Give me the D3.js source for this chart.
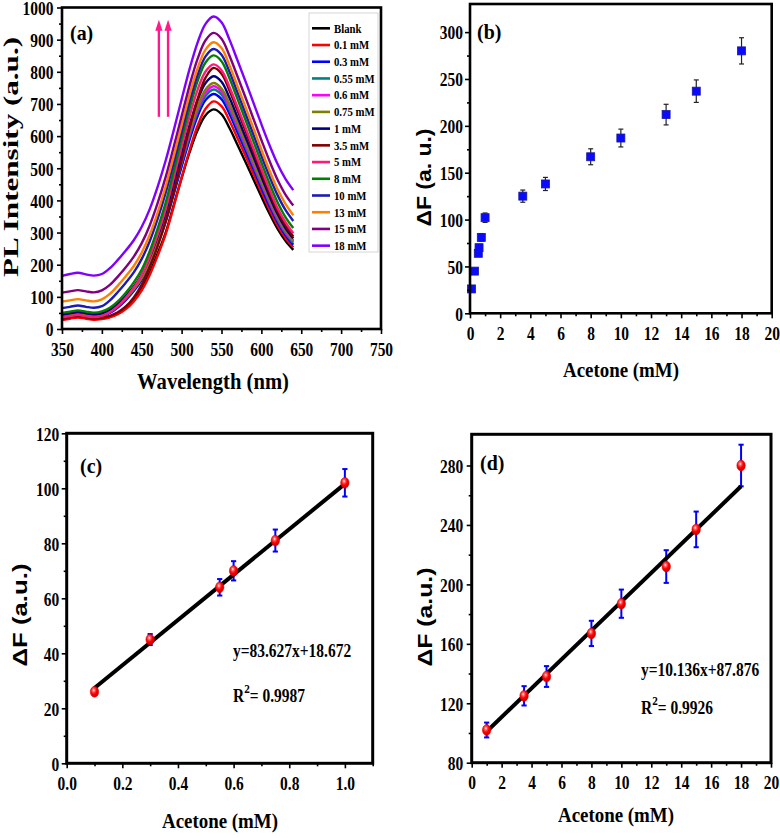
<!DOCTYPE html>
<html><head><meta charset="utf-8">
<script src="https://cdn.jsdelivr.net/npm/d3@7"></script>
<style>body{margin:0;background:#fff}</style>
</head><body>
<svg id="chart" width="780" height="838"></svg>
<script>
// ---------------- DATA ----------------
const wavelengths = [350,360,370,380,390,400,410,420,430,440,450,460,470,480,490,500,510,520,530,540,550,560,570,580,590,600,610,620,630,640];
const seriesNames = ["Blank","0.1 mM","0.3 mM","0.55 mM","0.6 mM","0.75 mM","1 mM","3.5 mM","5 mM","8 mM","10 mM","13 mM","15 mM","18 mM"];
const seriesColors = ["#000000","#ff0000","#0000ff","#008080","#ff00ff","#808000","#000080","#800000","#ff1a7a","#008000","#1c1cb4","#ff8000","#800080","#8000ff"];
const specBlank = [30,34,38,34,31,33,38,48,65,90,125,175,235,300,385,470,550,618,665,683,668,625,573,520,466,412,360,313,275,246];
const spec01  = [28,32,36,32,29,31,36,46,62,86,120,168,228,295,380,470,556,632,685,708,693,648,594,539,482,427,372,323,284,254];
const spec03  = [36,40,44,40,37,40,50,67,90,118,153,203,264,333,418,505,589,662,712,731,715,669,613,556,498,440,384,334,293,262];
const spec055 = [40,44,48,44,41,44,54,72,95,123,158,209,271,342,428,516,601,675,725,745,729,682,625,567,508,449,393,341,299,268];
const spec06  = [42,46,50,46,43,46,56,74,98,126,162,213,276,347,434,523,609,684,735,755,739,691,633,575,515,456,398,346,304,272];
const spec075 = [38,42,46,42,39,42,53,71,95,124,160,213,277,349,438,529,616,692,745,765,748,700,642,583,522,462,404,351,308,276];
const spec1   = [45,49,53,49,46,49,60,78,103,132,170,223,288,362,453,545,634,712,765,786,769,719,659,598,536,474,414,359,315,282];
const spec35  = [32,36,40,36,33,35,41,52,70,98,138,192,258,335,425,525,625,715,782,812,794,742,680,617,552,487,425,368,323,288];
const spec5   = [36,40,44,40,37,41,52,71,97,129,168,225,294,373,469,567,662,744,801,823,805,753,691,627,562,498,435,378,333,298];
const spec8   = [50,54,58,54,51,55,66,86,113,145,185,242,313,393,491,591,687,771,829,851,833,780,716,651,584,518,454,396,349,314];
const spec10  = [65,69,73,69,66,71,89,115,144,176,218,273,343,424,516,613,708,790,848,871,853,800,736,671,605,539,476,418,371,336];
const spec13  = [85,89,93,89,86,92,109,135,164,196,238,293,363,444,537,634,729,811,869,892,874,820,756,691,625,558,494,436,390,354];
const spec15  = [113,117,121,117,114,120,137,163,192,225,267,322,392,473,566,662,758,840,898,921,903,850,786,721,654,588,524,466,419,384];
const spec18  = [165,171,175,170,166,171,189,215,244,276,318,373,443,524,617,714,809,891,949,972,954,900,836,771,704,637,573,515,468,432];
const spectra = [specBlank,spec01,spec03,spec055,spec06,spec075,spec1,spec35,spec5,spec8,spec10,spec13,spec15,spec18];

const acetone = [0.1,0.3,0.55,0.6,0.75,1,3.5,5,8,10,13,15,18];
const deltaF  = [26,45,64,70,81,102,125,138,167,187,212,237,280];
const deltaErr = [1.2,2,3,3.5,4,5,6.5,7,8.5,9.5,11,12,14];

const lowRangeIdx = [0,1,2,3,4,5];        // panel (c)
const highRangeIdx = [5,6,7,8,9,10,11,12]; // panel (d)
const fitLineC = [[0.1,27.4],[1.0,101.6]];
const fitLineD = [[1,101],[18,266]];
const eqC = ["y=83.627x+18.672","0.9987"];
const eqD = ["y=10.136x+87.876","0.9926"];

const arrowWl = [471.5, 483];
const arrowRange = [660, 962];

const xTicksA = [350,400,450,500,550,600,650,700,750];
const yTicksA = [0,100,200,300,400,500,600,700,800,900,1000];
const xTicksB = [0,2,4,6,8,10,12,14,16,18,20];
const yTicksB = [0,50,100,150,200,250,300];
const xTicksC = [0,0.2,0.4,0.6,0.8,1.0];
const yTicksC = [0,20,40,60,80,100,120];
const xTicksD = [0,2,4,6,8,10,12,14,16,18,20];
const yTicksD = [80,120,160,200,240,280];

// ---------------- DRAWING ----------------
const SERIF = '"Liberation Serif","Times New Roman",serif';
const SANS = '"Liberation Sans",Arial,sans-serif';
const SQ = 0.86;
const svg = d3.select('#chart');
svg.append('rect').attr('width',780).attr('height',838).attr('fill','#fff');
const defs = svg.append('defs');

function hText(parent, x, y, str, size, anchor='start', family=SERIF, sx=SQ) {
  return parent.append('text')
    .attr('transform', `translate(${x},${y}) scale(${sx},1)`)
    .attr('font-family', family).attr('font-weight','bold').attr('font-size', size)
    .attr('text-anchor', anchor).attr('fill','#000').text(str);
}
function vText(parent, x, y, str, size, family, sy, len) {
  const t = parent.append('text')
    .attr('transform', `translate(${x},${y}) rotate(-90) scale(1,${sy})`)
    .attr('font-family', family).attr('font-weight','bold').attr('font-size', size)
    .attr('text-anchor','middle').attr('fill','#000').text(str);
  if (len) t.attr('textLength', len).attr('lengthAdjust','spacingAndGlyphs');
  return t;
}
function minorVals(majors, step) {
  const out = [];
  for (let i = 0; i < majors.length - 1; i++) out.push(+(majors[i] + step).toFixed(4));
  return out;
}
function makeAxes(g, xs, ys, cfg) {
  const [x0, x1] = xs.range();
  const [y0, y1] = ys.range();
  g.append('g').attr('transform',`translate(0,${y0})`)
    .call(d3.axisBottom(xs).tickValues(cfg.xMinor).tickSize(3).tickFormat(''));
  g.append('g').attr('transform',`translate(${x0},0)`)
    .call(d3.axisLeft(ys).tickValues(cfg.yMinor).tickSize(3).tickFormat(''));
  const bx = g.append('g').attr('transform',`translate(0,${y0})`)
    .call(d3.axisBottom(xs).tickValues(cfg.xMajor).tickSize(5).tickPadding(cfg.padX).tickFormat(cfg.fmtX));
  const ly = g.append('g').attr('transform',`translate(${x0},0)`)
    .call(d3.axisLeft(ys).tickValues(cfg.yMajor).tickSize(5).tickPadding(cfg.padY).tickFormat(cfg.fmtY));
  g.selectAll('.domain').remove();
  g.selectAll('.tick line').attr('stroke','#000').attr('stroke-width',1.6);
  [[bx,0],[ly,1]].forEach(([a,dyy]) => a.selectAll('text').each(function(){
    const t = d3.select(this);
    const xx = +t.attr('x') || 0, yy = (+t.attr('y') || 0) + dyy;
    t.attr('x',0).attr('y',0).attr('transform',`translate(${xx},${yy}) scale(${SQ},1)`)
     .attr('font-family',SERIF).attr('font-weight','bold').attr('font-size',18).attr('fill','#000');
  }));
  g.append('rect').attr('x',x0).attr('y',y1).attr('width',x1-x0).attr('height',y0-y1)
    .attr('fill','none').attr('stroke','#000').attr('stroke-width',cfg.frame);
}

// ---- Panel (a) ----
const gA = svg.append('g');
const xA = d3.scaleLinear().domain([350,750]).range([62,381]);
const yA = d3.scaleLinear().domain([0,1000]).range([329,7.5]);
const lineA = d3.line().x((d,i)=>xA(wavelengths[i])).y(d=>yA(d)).curve(d3.curveCatmullRom.alpha(0.5));
spectra.forEach((s,k)=>{
  gA.append('path').attr('d',lineA(s)).attr('fill','none').attr('stroke',seriesColors[k]).attr('stroke-width',2.4);
});
makeAxes(gA, xA, yA, {xMajor:xTicksA, xMinor:minorVals(xTicksA,25), yMajor:yTicksA, yMinor:minorVals(yTicksA,50),
  padX:9, padY:3.5, fmtX:d3.format('d'), fmtY:d3.format('d'), frame:2.6});
// legend
const leg = gA.append('g');
leg.append('rect').attr('x',309).attr('y',13).attr('width',69).attr('height',239).attr('fill','#fff').attr('stroke','#d6d6d6').attr('stroke-width',1);
seriesNames.forEach((n,i)=>{
  const yy = 28.3 + i*16.72;
  leg.append('line').attr('x1',312).attr('x2',330).attr('y1',yy).attr('y2',yy).attr('stroke',seriesColors[i]).attr('stroke-width',2.6);
  hText(leg, 334, yy+4.3, n, 12.5);
});
// arrows
arrowWl.forEach(w=>{
  const ax = xA(w), yb = yA(arrowRange[0]), yt = yA(arrowRange[1]);
  gA.append('line').attr('x1',ax).attr('x2',ax).attr('y1',yb).attr('y2',yt+8)
    .attr('stroke','#ff1a8c').attr('stroke-width',2.4);
  gA.append('path').attr('d',`M${ax},${yt} L${ax-3.6},${yt+11} L${ax+3.6},${yt+11} Z`).attr('fill','#ff1a8c');
});
hText(gA, 70, 40, '(a)', 21, 'start', SERIF, 0.95);
hText(gA, 213, 389, 'Wavelength (nm)', 24, 'middle');
vText(gA, 18, 157, 'PL Intensity (a.u.)', 26, SERIF, 0.8, 240);

// ---- Panel (b) ----
const gB = svg.append('g');
const xB = d3.scaleLinear().domain([0,20]).range([470,771.7]);
const yB = d3.scaleLinear().domain([0,330]).range([313.3,4]);
acetone.forEach((c,i)=>{
  const x = xB(c);
  gB.append('line').attr('x1',x).attr('x2',x).attr('y1',yB(deltaF[i]-deltaErr[i])).attr('y2',yB(deltaF[i]+deltaErr[i])).attr('stroke','#222').attr('stroke-width',1.2);
  [deltaF[i]-deltaErr[i], deltaF[i]+deltaErr[i]].forEach(v=>{
    gB.append('line').attr('x1',x-2.5).attr('x2',x+2.5).attr('y1',yB(v)).attr('y2',yB(v)).attr('stroke','#222').attr('stroke-width',1.2);
  });
});
acetone.forEach((c,i)=>{
  gB.append('rect').attr('x',xB(c)-4).attr('y',yB(deltaF[i])-4).attr('width',8).attr('height',8)
    .attr('fill','#0a0aff').attr('stroke','#1a1aa0').attr('stroke-width',0.8);
});
makeAxes(gB, xB, yB, {xMajor:xTicksB, xMinor:minorVals(xTicksB,1), yMajor:yTicksB, yMinor:minorVals(yTicksB,25),
  padX:9, padY:2, fmtX:d3.format('d'), fmtY:d3.format('d'), frame:2.6});
hText(gB, 477, 39, '(b)', 21, 'start', SERIF, 0.95);
hText(gB, 621, 376.5, 'Acetone (mM)', 22, 'middle');
vText(gB, 431, 177.5, 'ΔF (a. u.)', 23, SANS, 0.88, 98);

// ---- shared gradient for red balls ----
const rg = defs.append('radialGradient').attr('id','ball').attr('cx','40%').attr('cy','35%').attr('r','60%');
rg.append('stop').attr('offset','0%').attr('stop-color','#ffffff');
rg.append('stop').attr('offset','25%').attr('stop-color','#ff6060');
rg.append('stop').attr('offset','60%').attr('stop-color','#ff0000');
rg.append('stop').attr('offset','100%').attr('stop-color','#d00000');

function fitPanel(g, xs, ys, idx, fitLine) {
  idx.forEach(i=>{
    const x = xs(acetone[i]);
    const lo = deltaF[i]-deltaErr[i], hi = deltaF[i]+deltaErr[i];
    g.append('line').attr('x1',x).attr('x2',x).attr('y1',ys(lo)).attr('y2',ys(hi)).attr('stroke','#0000ff').attr('stroke-width',2);
    [lo,hi].forEach(v=>g.append('line').attr('x1',x-2.6).attr('x2',x+2.6).attr('y1',ys(v)).attr('y2',ys(v)).attr('stroke','#0000ff').attr('stroke-width',2));
  });
  g.append('path').attr('d', d3.line().x(d=>xs(d[0])).y(d=>ys(d[1]))(fitLine))
    .attr('stroke','#000').attr('stroke-width',4).attr('fill','none');
  idx.forEach(i=>{
    g.append('ellipse').attr('cx',xs(acetone[i])).attr('cy',ys(deltaF[i])).attr('rx',4.2).attr('ry',5.4)
      .attr('fill','url(#ball)').attr('stroke','#e00000').attr('stroke-width',0.6);
  });
}
function eqText(g, x, y1, y2, eq) {
  hText(g, x, y1, eq[0], 18);
  const t = g.append('text').attr('transform',`translate(${x},${y2}) scale(${SQ},1)`)
    .attr('font-family',SERIF).attr('font-weight','bold').attr('font-size',18).attr('fill','#000');
  t.append('tspan').text('R');
  t.append('tspan').attr('font-size',13).attr('dy',-9).text('2');
  t.append('tspan').attr('dy',9).text('= ' + eq[1]);
}

// ---- Panel (c) ----
const gC = svg.append('g');
const xC = d3.scaleLinear().domain([0,1.1]).range([66.7,372.7]);
const yC = d3.scaleLinear().domain([0,120]).range([763.3,433.3]);
fitPanel(gC, xC, yC, lowRangeIdx, fitLineC);
makeAxes(gC, xC, yC, {xMajor:xTicksC, xMinor:minorVals(xTicksC.concat([1.2]),0.1).filter(v=>v<=1.1), yMajor:yTicksC, yMinor:minorVals(yTicksC,10),
  padX:9, padY:2.5, fmtX:d3.format('.1f'), fmtY:d3.format('d'), frame:3});
hText(gC, 80, 473, '(c)', 21, 'start', SERIF, 0.95);
eqText(gC, 233, 657, 702, eqC);
hText(gC, 220, 828, 'Acetone (mM)', 22, 'middle');
vText(gC, 27, 615, 'ΔF (a.u.)', 25, SANS, 0.82, 103);

// ---- Panel (d) ----
const gD = svg.append('g');
const xD = d3.scaleLinear().domain([0,20]).range([471.7,771]);
const yD = d3.scaleLinear().domain([80,301]).range([762.7,434.3]);
fitPanel(gD, xD, yD, highRangeIdx, fitLineD);
makeAxes(gD, xD, yD, {xMajor:xTicksD, xMinor:minorVals(xTicksD,1), yMajor:yTicksD, yMinor:minorVals(yTicksD,20),
  padX:9, padY:3.5, fmtX:d3.format('d'), fmtY:d3.format('d'), frame:3});
hText(gD, 480, 470, '(d)', 21, 'start', SERIF, 0.95);
eqText(gD, 641, 676, 714, eqD);
hText(gD, 616, 822, 'Acetone (mM)', 22, 'middle');
vText(gD, 432, 617, 'ΔF (a.u.)', 25, SANS, 0.82, 99);
</script>
</body></html>
